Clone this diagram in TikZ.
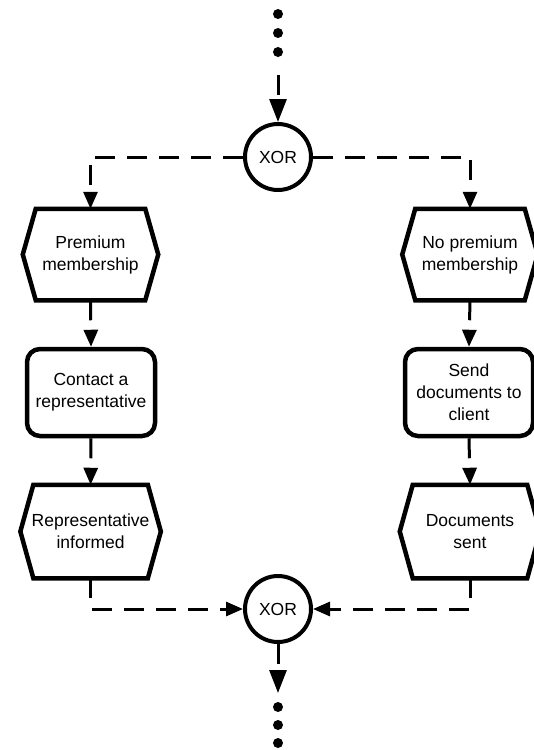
\documentclass[tikz,border=0pt]{standalone}
\usepackage{fontspec}
\setmainfont{Liberation Sans}
\usetikzlibrary{arrows.meta}
\begin{document}
\begin{tikzpicture}[x=1pt,y=-1pt,
  every node/.append style={font=\fontsize{17.5pt}{22pt}\selectfont},
  hexnode/.style={minimum width=131pt,minimum height=87pt,inner sep=0pt,outer sep=2.25pt,align=center},
  widehex/.style={hexnode,minimum width=136pt,minimum height=89pt},
  boxnode/.style={draw,line width=4.5pt,rounded corners=13pt,minimum width=128pt,minimum height=87pt,inner sep=0pt,align=center},
  xornode/.style={draw,circle,line width=4pt,minimum size=66pt,inner sep=0pt},
  dotnode/.style={circle,fill,inner sep=0pt,minimum size=10pt},
  hexline/.style={line width=4.5pt,line join=miter},
  conn/.style={line width=3pt,dash pattern=on 20pt off 12pt},
  arr/.style={-{Triangle[length=17pt,width=14pt]}},
  bigarr/.style={-{Triangle[length=23pt,width=17pt]}}
]
\useasboundingbox (0,0) rectangle (534,750);

% dots
\node[dotnode] (d1) at (278,14) {};
\node[dotnode] (d2) at (278,33) {};
\node[dotnode] (d3) at (278,52) {};
\node[dotnode] (e1) at (278,707) {};
\node[dotnode] (e2) at (278,725) {};
\node[dotnode] (e3) at (278,743) {};
\coordinate (tin) at (278,75);
\coordinate (tout) at (278,693);

% connectors (XOR)
\node[xornode] (x1) at (278,157) {XOR};
\node[xornode] (x2) at (278,609) {XOR};

% left column
\node[hexnode] (h1) at (90.5,254.5) {Premium\\membership};
\node[boxnode] (b1) at (91,392.5) {Contact a\\representative};
\node[widehex] (h2) at (90.6,531.5) {Representative\\informed};

% right column
\node[hexnode] (h3) at (470,254.5) {No premium\\membership};
\node[boxnode] (b2) at (469,392.5) {Send\\documents to\\client};
\node[widehex] (h4) at (470,531.5) {Documents\\sent};

% hexagon outlines
\foreach \n in {h1,h2,h3,h4}{
  \draw[hexline] ([xshift=13pt]\n.north west) -- ([xshift=-13pt]\n.north east) -- (\n.east)
    -- ([xshift=-13pt]\n.south east) -- ([xshift=13pt]\n.south west) -- (\n.west) -- cycle;
}

% flows
\draw[conn,bigarr] (tin) -- (x1.north);
\draw[conn,arr] (x1.west) -| (h1.north);
\draw[conn,arr] (x1.east) -| (h3.north);
\draw[conn,arr] (h1.south) -- (b1.north);
\draw[conn,arr] (b1.south) -- (h2.north);
\draw[conn,arr] (h3.south) -- (b2.north);
\draw[conn,arr] (b2.south) -- (h4.north);
\draw[conn,arr] (h2.south) |- (x2.west);
\draw[conn,arr] (h4.south) |- (x2.east);
\draw[conn,bigarr] (x2.south) -- (tout);
\end{tikzpicture}
\end{document}
